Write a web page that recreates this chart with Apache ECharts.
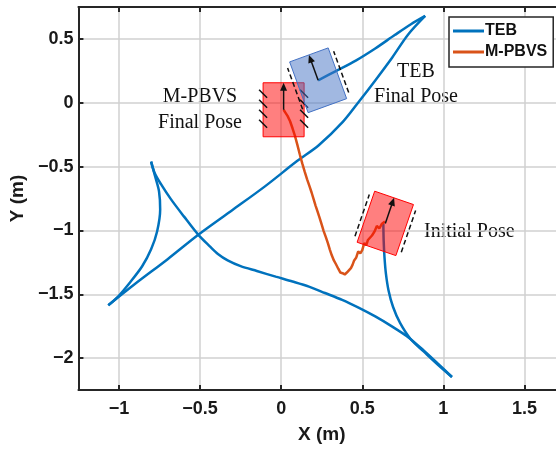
<!DOCTYPE html>
<html>
<head>
<meta charset="utf-8">
<script src="https://cdn.jsdelivr.net/npm/echarts@6/dist/echarts.min.js"></script>
<style>
  html, body { margin: 0; padding: 0; background: #fff; overflow: hidden; }
  #chart { width: 566px; height: 449px; }
</style>
</head>
<body>
<div id="chart"></div>
<script>
// tick values
const xTicks = [-1, -0.5, 0, 0.5, 1, 1.5];
const yTicks = [-2, -1.5, -1, -0.5, 0, 0.5];

// TEB trajectory (m), split at the cusps
const teb1X = [0.630, 0.632, 0.637, 0.646, 0.662, 0.690, 0.733, 0.800, 0.880, 0.965, 1.053];
const teb1Y = [-0.950, -1.080, -1.210, -1.340, -1.470, -1.600, -1.725, -1.855, -1.950, -2.050, -2.148];
const teb2X = [1.053, 0.970, 0.880, 0.785, 0.680, 0.580, 0.480, 0.376, 0.270, 0.171, 0.070, -0.034, -0.150, -0.250, -0.330, -0.390, -0.440, -0.513, -0.600, -0.680, -0.740, -0.780, -0.802];
const teb2Y = [-2.148, -2.048, -1.942, -1.838, -1.750, -1.674, -1.607, -1.544, -1.490, -1.440, -1.400, -1.362, -1.318, -1.280, -1.235, -1.185, -1.125, -1.031, -0.890, -0.755, -0.640, -0.550, -0.461];
const teb3X = [-0.802, -0.777, -0.753, -0.746, -0.765, -0.802, -0.857, -0.931, -1.004, -1.066];
const teb3Y = [-0.461, -0.578, -0.695, -0.836, -1.008, -1.148, -1.281, -1.406, -1.516, -1.586];
const teb4X = [-1.066, -0.900, -0.700, -0.507, -0.300, -0.100, 0.100, 0.230, 0.380, 0.480, 0.580, 0.685, 0.783, 0.888];
const teb4Y = [-1.586, -1.418, -1.225, -1.030, -0.840, -0.655, -0.455, -0.335, -0.150, 0.010, 0.175, 0.355, 0.535, 0.680];
const teb5X = [0.888, 0.800, 0.700, 0.580, 0.460, 0.340, 0.228];
const teb5Y = [0.680, 0.615, 0.530, 0.425, 0.330, 0.250, 0.176];

// M-PBVS trajectory (m)
const pbvsX = [0.640, 0.620, 0.605, 0.590, 0.575, 0.560, 0.548, 0.535, 0.525, 0.512, 0.500, 0.488, 0.475, 0.462,
  0.450, 0.440, 0.430, 0.418, 0.405, 0.392, 0.378, 0.365, 0.352, 0.338, 0.325, 0.312, 0.300, 0.288, 0.276, 0.262,
  0.250, 0.238, 0.225, 0.212, 0.200, 0.188, 0.175, 0.160, 0.145, 0.130, 0.115, 0.100, 0.085, 0.070, 0.055, 0.040,
  0.025, 0.015];
const pbvsY = [-0.930, -0.950, -0.985, -0.965, -1.010, -1.040, -1.025, -1.075, -1.115, -1.100, -1.155, -1.180, -1.165, -1.215,
  -1.235, -1.270, -1.295, -1.285, -1.330, -1.345, -1.335, -1.330, -1.300, -1.265, -1.235, -1.195, -1.150, -1.100, -1.055, -1.005,
  -0.955, -0.905, -0.855, -0.805, -0.755, -0.705, -0.655, -0.600, -0.540, -0.475, -0.405, -0.330, -0.260, -0.200, -0.145, -0.105,
  -0.075, -0.055];

// robot poses: M-PBVS final, TEB final, initial
const poseX = [0.015, 0.228, 0.642];
const poseY = [-0.055, 0.176, -0.945];
const poseHeading = [90, 110, 71];

const poseLook = [
  { fill: 'rgba(255,0,0,0.5)', stroke: '#ff0000', wheels: 'hatch' },
  { fill: 'rgba(68,114,196,0.5)', stroke: '#4472c4', wheels: 'dash' },
  { fill: 'rgba(255,0,0,0.5)', stroke: '#ff0000', wheels: 'dash' }
];

const zip = (a, b) => a.map((v, i) => [v, b[i]]);
const minus = v => String(v).replace('-', '\u2212');

const ROBOT_L = 54, ROBOT_W = 41;
function renderPose(params, api) {
  const look = poseLook[params.dataIndex];
  const c = api.coord([api.value(0), api.value(1)]);
  const t = api.value(2) * Math.PI / 180;
  const f = [Math.cos(t), -Math.sin(t)];
  const l = [-Math.sin(t), -Math.cos(t)];
  const p = (a, b) => [c[0] + a * f[0] + b * l[0], c[1] + a * f[1] + b * l[1]];
  const hl = ROBOT_L / 2, hw = ROBOT_W / 2;
  const kids = [{
    type: 'polygon',
    shape: { points: [p(hl, hw), p(hl, -hw), p(-hl, -hw), p(-hl, hw)] },
    style: { fill: look.fill, stroke: look.stroke, lineWidth: 1 }
  }];
  if (look.wheels === 'dash') {
    [hw + 4, -hw - 4].forEach(b => {
      const a = p(-22, b), e = p(22, b);
      kids.push({ type: 'line', shape: { x1: a[0], y1: a[1], x2: e[0], y2: e[1] },
        style: { stroke: '#111', lineWidth: 1.5, lineDash: [5, 3] } });
    });
  } else {
    [16, 6, -4, -14].forEach(a0 => {
      [hw, -hw].forEach(b => {
        const a = p(a0 + 4, b + 4), e = p(a0 - 4, b - 4);
        kids.push({ type: 'line', shape: { x1: a[0], y1: a[1], x2: e[0], y2: e[1] },
          style: { stroke: '#111', lineWidth: 1.5 } });
      });
    });
  }
  const tip = p(20, 0);
  kids.push({ type: 'line', shape: { x1: c[0], y1: c[1], x2: tip[0], y2: tip[1] },
    style: { stroke: '#111', lineWidth: 1.5 } });
  kids.push({ type: 'polygon', shape: { points: [p(27, 0), p(19, 3.5), p(19, -3.5)] },
    style: { fill: '#111' } });
  return { type: 'group', children: kids };
}

const labelFont = { fontFamily: 'Liberation Sans', fontWeight: 'bold', fontSize: 18, color: '#1a1a1a' };
const gridLine = { show: true, lineStyle: { color: '#d0d0d0', width: 1.5 } };
const axisLine = { show: true, onZero: false, lineStyle: { color: '#262626', width: 2 } };
const serif = { fontFamily: 'Liberation Serif', fontSize: 20, fill: '#111', verticalAlign: 'middle' };

function tebSeries(xs, ys) {
  return {
    name: 'TEB', type: 'line', symbol: 'none', smooth: 0.3, z: 2,
    lineStyle: { color: '#0072BD', width: 2.5 }, itemStyle: { color: '#0072BD' },
    data: zip(xs, ys)
  };
}

const chart = echarts.init(document.getElementById('chart'));
chart.setOption({
  animation: false,
  backgroundColor: '#fff',
  grid: { left: 77, top: 7, right: 1, bottom: 59 },
  legend: {
    left: 449, top: 17, orient: 'vertical', icon: 'rect',
    backgroundColor: '#fff', borderColor: '#262626', borderWidth: 1.5, borderRadius: 0,
    padding: [6, 6, 7, 4], itemWidth: 31, itemHeight: 3, itemGap: 5,
    textStyle: { fontFamily: 'Liberation Sans', fontWeight: 'bold', fontSize: 16, color: '#111',
      lineHeight: 16, padding: [0, 0, 0, -4] },
    data: ['TEB', 'M-PBVS']
  },
  xAxis: [{
    type: 'value', min: -1.25, max: 1.75,
    name: 'X (m)', nameLocation: 'middle', nameGap: 35,
    nameTextStyle: { fontFamily: 'Liberation Sans', fontWeight: 'bold', fontSize: 19, color: '#1a1a1a' },
    axisLine: axisLine,
    axisTick: { show: true, inside: true, length: 5, customValues: xTicks, lineStyle: { color: '#262626', width: 2 } },
    axisLabel: Object.assign({ customValues: xTicks, margin: 10, formatter: minus }, labelFont),
    splitLine: gridLine
  }, {
    type: 'value', min: -1.25, max: 1.75, position: 'top',
    axisLine: axisLine,
    axisTick: { show: true, inside: true, length: 5, customValues: xTicks, lineStyle: { color: '#262626', width: 2 } },
    axisLabel: { show: false },
    splitLine: { show: false }
  }],
  yAxis: [{
    type: 'value', min: -2.25, max: 0.75,
    name: 'Y (m)', nameLocation: 'middle', nameGap: 48,
    nameTextStyle: { fontFamily: 'Liberation Sans', fontWeight: 'bold', fontSize: 19, color: '#1a1a1a' },
    axisLine: axisLine,
    axisTick: { show: true, inside: true, length: 5, customValues: yTicks, lineStyle: { color: '#262626', width: 2 } },
    axisLabel: Object.assign({ customValues: yTicks, margin: 5, formatter: minus }, labelFont),
    splitLine: gridLine
  }, {
    type: 'value', min: -2.25, max: 0.75, position: 'right',
    axisLine: axisLine,
    axisTick: { show: false }, axisLabel: { show: false }, splitLine: { show: false }
  }],
  graphic: [
    { type: 'text', x: 200, y: 97, style: Object.assign({ text: 'M-PBVS', align: 'center' }, serif) },
    { type: 'text', x: 200, y: 123, style: Object.assign({ text: 'Final Pose', align: 'center' }, serif) },
    { type: 'text', x: 416, y: 72, style: Object.assign({ text: 'TEB', align: 'center' }, serif) },
    { type: 'text', x: 416, y: 97, style: Object.assign({ text: 'Final Pose', align: 'center' }, serif) },
    { type: 'text', x: 424, y: 232, style: Object.assign({ text: 'Initial Pose', align: 'left' }, serif) }
  ],
  series: [
    tebSeries(teb1X, teb1Y),
    tebSeries(teb2X, teb2Y),
    tebSeries(teb3X, teb3Y),
    tebSeries(teb4X, teb4Y),
    tebSeries(teb5X, teb5Y),
    {
      name: 'M-PBVS', type: 'line', symbol: 'none', z: 2,
      lineStyle: { color: '#D95319', width: 2.5 }, itemStyle: { color: '#D95319' },
      data: zip(pbvsX, pbvsY)
    }, {
      name: 'poses', type: 'custom', z: 3, clip: false,
      renderItem: renderPose,
      encode: { x: 0, y: 1 },
      data: poseX.map((x, i) => [x, poseY[i], poseHeading[i]])
    }
  ]
});
</script>
</body>
</html>
